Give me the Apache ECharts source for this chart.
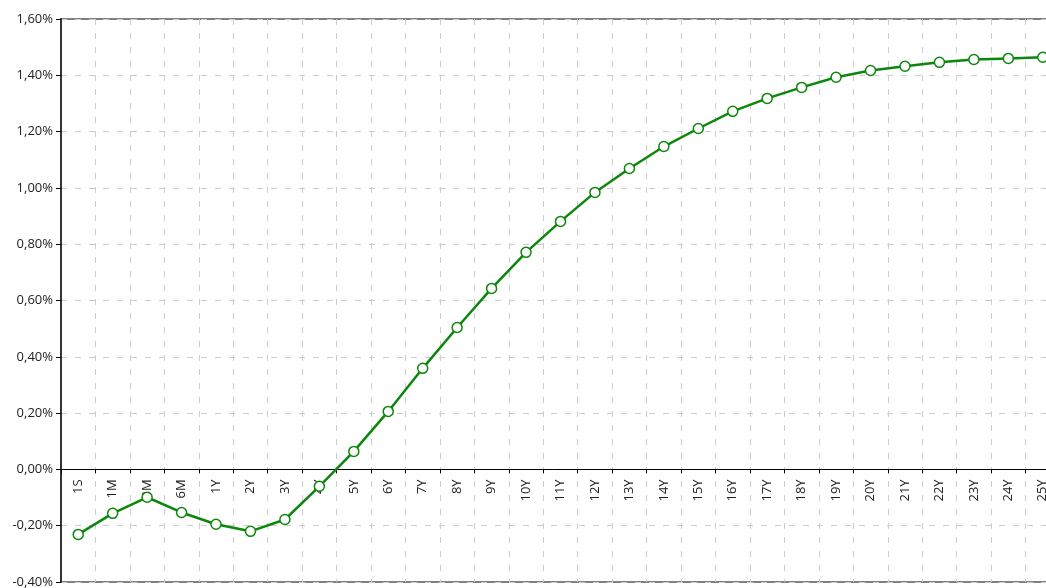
<!DOCTYPE html>
<html>
<head>
<meta charset="UTF-8">
<title>Courbe de taux</title>
<script src="https://cdn.jsdelivr.net/npm/echarts@6/dist/echarts.min.js"></script>
<style>
    body { margin: 0; background: #fff; }
    #chart { width: 1046px; height: 588px; }
</style>
</head>
<body>
<div id="chart"></div>
<script>
    // maturités
    const maturities = ['1S', '1M', '3M', '6M', '1Y', '2Y', '3Y', '4Y', '5Y', '6Y', '7Y', '8Y', '9Y', '10Y',
        '11Y', '12Y', '13Y', '14Y', '15Y', '16Y', '17Y', '18Y', '19Y', '20Y', '21Y', '22Y', '23Y', '24Y', '25Y'];
    // taux en %
    const rates = [-0.231, -0.156, -0.099, -0.153, -0.195, -0.220, -0.178, -0.060, 0.064, 0.206, 0.359, 0.504,
        0.643, 0.771, 0.881, 0.984, 1.069, 1.147, 1.211, 1.272, 1.318, 1.357, 1.393, 1.417, 1.432, 1.446,
        1.456, 1.460, 1.464];
    const yMin = -0.4, yMax = 1.6, yStep = 0.2;

    const chart = echarts.init(document.getElementById('chart'));
    const font = '"Open Sans", "Noto Sans", sans-serif';
    const green = '#0b870b';

    chart.setOption({
        animation: false,
        grid: {
            left: 61, right: -14, top: 19, bottom: 6,
            outerBoundsMode: 'none', containLabel: false,
            show: true, borderColor: '#000', borderWidth: 1
        },
        xAxis: {
            type: 'category',
            data: maturities,
            boundaryGap: true,
            offset: 0,
            axisLine: { onZero: false, lineStyle: { color: '#000', width: 1 } },
            axisTick: { show: true, length: 4, lineStyle: { color: '#000' } },
            axisLabel: { rotate: 90, margin: 10, color: '#222', fontSize: 13, fontFamily: font, interval: 0 },
            splitLine: { show: true, interval: 0, lineStyle: { color: '#cccccc', type: [6, 8] } }
        },
        yAxis: {
            type: 'value',
            min: yMin,
            max: yMax,
            interval: yStep,
            axisLine: { show: true, lineStyle: { color: '#333', width: 2 } },
            axisTick: { show: true, length: 5, lineStyle: { color: '#000' } },
            axisLabel: {
                color: '#222', fontSize: 13, fontFamily: font, margin: 8,
                formatter: v => v.toFixed(2).replace('.', ',') + '%'
            },
            splitLine: { show: true, lineStyle: { color: '#cccccc', type: [6, 8] } }
        },
        series: [{
            type: 'line',
            data: rates,
            symbol: 'circle',
            symbolSize: 10,
            itemStyle: { color: '#fff', borderColor: green, borderWidth: 1.5 },
            lineStyle: { color: green, width: 2.5 },
            z: 5
        }]
    });

    // remonter l'axe des maturités sur la ligne 0 (libellés compris)
    const zeroY = chart.convertToPixel({ yAxisIndex: 0 }, 0);
    const bottomY = chart.convertToPixel({ yAxisIndex: 0 }, yMin);
    chart.setOption({ xAxis: { offset: zeroY - bottomY } });
</script>
</body>
</html>
